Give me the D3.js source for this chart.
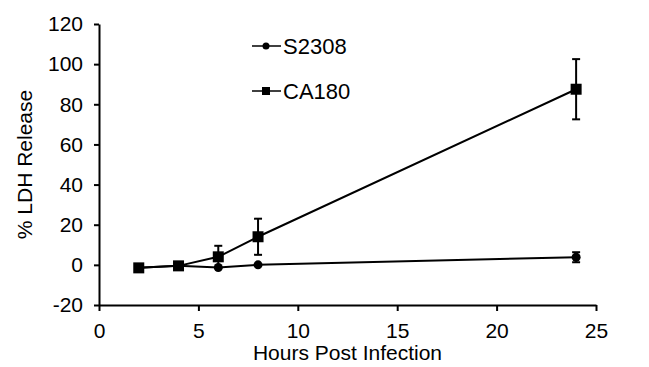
<!DOCTYPE html>
<html>
<head>
<meta charset="utf-8">
<script src="https://cdn.jsdelivr.net/npm/d3@7"></script>
<style>
  body { margin: 0; background: #fff; }
  svg { display: block; }
  text { font-family: Arial, "Liberation Sans", Helvetica, sans-serif; fill: #000; }
</style>
</head>
<body>
<svg></svg>
<script>
const hours = [2, 4, 6, 8, 24];
const s2308 = [-1.5, -0.5, -1.3, 0, 3.8];
const s2308Err = [0, 0, 0, 0, 2.5];
const ca180 = [-1.5, -0.5, 4, 14, 87.5];
const ca180Err = [0, 0, 5.5, 9, 15];
const xTicks = [0, 5, 10, 15, 20, 25];
const yTicks = [-20, 0, 20, 40, 60, 80, 100, 120];

const [width, height] = [649, 367];
const margin = {top: 24, right: 53, bottom: 62, left: 99};

const x = d3.scaleLinear()
  .domain([0, 25])
  .range([margin.left, width - margin.right]);

const y = d3.scaleLinear()
  .domain([-20, 120])
  .range([height - margin.bottom, margin.top]);

const svg = d3.select('svg')
  .attr('width', width)
  .attr('height', height)
  .attr('viewBox', [0, 0, width, height]);

const fontSize = 21;

// axes (plain hyphen for negatives, like the original)
const xAxis = d3.axisBottom(x)
  .tickValues(xTicks)
  .tickFormat(d => String(d))
  .tickSize(6)
  .tickSizeOuter(0)
  .tickPadding(12);
const yAxis = d3.axisLeft(y)
  .tickValues(yTicks)
  .tickFormat(d => String(d))
  .tickSize(5)
  .tickSizeOuter(0)
  .tickPadding(11);

const gx = svg.append('g')
  .attr('transform', `translate(0,${y(-20)})`)
  .call(xAxis);
const gy = svg.append('g')
  .attr('transform', `translate(${x(0)},0)`)
  .call(yAxis);

[gx, gy].forEach(g => {
  g.select('.domain').attr('stroke', '#000').attr('stroke-width', 2);
  g.selectAll('.tick line').attr('stroke', '#000').attr('stroke-width', 2);
  g.selectAll('.tick text')
    .attr('font-size', fontSize)
    .attr('font-family', 'Arial, "Liberation Sans", sans-serif')
    .attr('fill', '#000');
});

// axis titles
svg.append('text')
  .attr('x', (x(0) + x(25)) / 2)
  .attr('y', 360)
  .attr('text-anchor', 'middle')
  .attr('font-size', fontSize)
  .text('Hours Post Infection');

svg.append('text')
  .attr('transform', `translate(32,${(y(-20) + y(120)) / 2}) rotate(-90)`)
  .attr('text-anchor', 'middle')
  .attr('font-size', fontSize)
  .text('% LDH Release');

const line = d3.line()
  .x(d => x(d.h))
  .y(d => y(d.v));

function series(vals, errs) {
  return hours.map((h, i) => ({h, v: vals[i], e: errs[i]}));
}

const dataS = series(s2308, s2308Err);
const dataC = series(ca180, ca180Err);

function drawErrors(data) {
  const g = svg.append('g').attr('stroke', '#000').attr('stroke-width', 2);
  data.filter(d => d.e > 0).forEach(d => {
    const cx = x(d.h), top = y(d.v + d.e), bot = y(d.v - d.e);
    g.append('line').attr('x1', cx).attr('x2', cx).attr('y1', top).attr('y2', bot);
    g.append('line').attr('x1', cx - 4).attr('x2', cx + 4).attr('y1', top).attr('y2', top);
    g.append('line').attr('x1', cx - 4).attr('x2', cx + 4).attr('y1', bot).attr('y2', bot);
  });
}

drawErrors(dataS);
drawErrors(dataC);

svg.append('path')
  .datum(dataS)
  .attr('fill', 'none')
  .attr('stroke', '#000')
  .attr('stroke-width', 2)
  .attr('d', line);

svg.append('path')
  .datum(dataC)
  .attr('fill', 'none')
  .attr('stroke', '#000')
  .attr('stroke-width', 2)
  .attr('d', line);

svg.append('g')
  .selectAll('circle')
  .data(dataS)
  .join('circle')
  .attr('cx', d => x(d.h))
  .attr('cy', d => y(d.v))
  .attr('r', 4.5)
  .attr('fill', '#000');

const sq = 11;
svg.append('g')
  .selectAll('rect')
  .data(dataC)
  .join('rect')
  .attr('x', d => x(d.h) - sq / 2)
  .attr('y', d => y(d.v) - sq / 2)
  .attr('width', sq)
  .attr('height', sq)
  .attr('fill', '#000');

// legend
const legend = svg.append('g');
const legendItems = [
  {name: 'S2308', shape: 'circle', ly: 46},
  {name: 'CA180', shape: 'square', ly: 91}
];
legendItems.forEach(item => {
  const g = legend.append('g').attr('transform', `translate(252,${item.ly})`);
  g.append('line')
    .attr('x1', 0).attr('x2', 29)
    .attr('stroke', '#000').attr('stroke-width', 1.5);
  if (item.shape === 'circle') {
    g.append('circle').attr('cx', 14).attr('r', 3.5).attr('fill', '#000');
  } else {
    g.append('rect').attr('x', 10).attr('y', -4).attr('width', 8).attr('height', 8).attr('fill', '#000');
  }
  g.append('text')
    .attr('x', 31)
    .attr('dy', '0.36em')
    .attr('font-size', 22)
    .text(item.name);
});
</script>
</body>
</html>
